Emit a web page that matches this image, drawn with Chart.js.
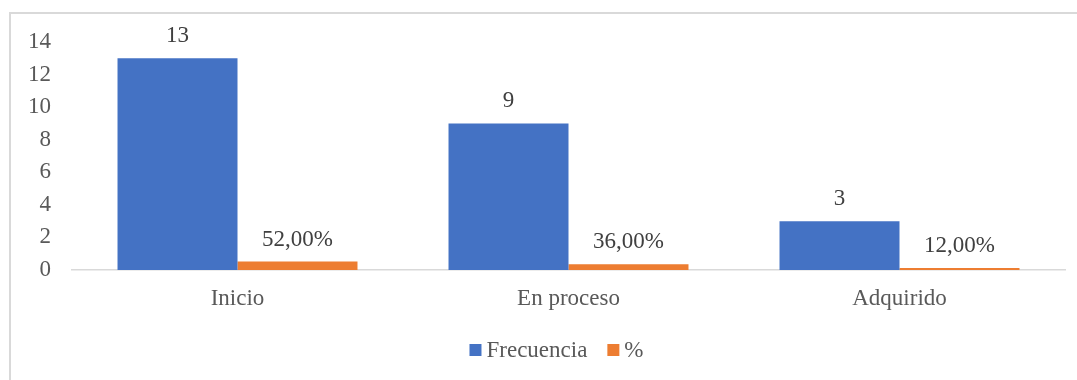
<!DOCTYPE html>
<html>
<head>
<meta charset="utf-8">
<script src="https://cdn.jsdelivr.net/npm/chart.js@4"></script>
<style>
  html, body { margin: 0; padding: 0; background: #ffffff; overflow: hidden; }
  #wrap { position: relative; width: 1077px; height: 380px; }
  #frame { position: absolute; left: 9px; top: 12px; width: 1200px; height: 500px;
           border-left: 2px solid #d9d9d9; border-top: 2px solid #d9d9d9; box-sizing: border-box; }
  canvas { position: absolute; left: 0; top: 0; }
</style>
</head>
<body>
<div id="wrap">
  <div id="frame"></div>
  <canvas id="c" width="1077" height="380"></canvas>
</div>
<script>
const categories = ["Inicio", "En proceso", "Adquirido"];
const seriesNames = ["Frecuencia", "%"];
const frecuencia = [13, 9, 3];
const porcentaje = [0.52, 0.36, 0.12];
const yTicks = [0, 2, 4, 6, 8, 10, 12, 14];

const FONT = "'Liberation Serif', 'Times New Roman', serif";
const TEXT = "#595959";

function fmtPct(v) {
  return (v * 100).toFixed(2).replace(".", ",") + "%";
}

const dataLabels = {
  id: "dataLabels",
  afterDatasetsDraw(chart) {
    const ctx = chart.ctx;
    ctx.save();
    ctx.font = "23px " + FONT;
    ctx.fillStyle = "#404040";
    ctx.textAlign = "center";
    ctx.textBaseline = "alphabetic";
    chart.data.datasets.forEach((ds, di) => {
      const meta = chart.getDatasetMeta(di);
      meta.data.forEach((bar, i) => {
        const v = ds.data[i];
        const txt = di === 1 ? fmtPct(v) : String(v);
        ctx.fillText(txt, bar.x, bar.y - 16);
      });
    });
    ctx.restore();
  }
};

// Office-style legend: small square, short gap, text
const officeLegend = {
  id: "officeLegend",
  afterDraw(chart) {
    const ctx = chart.ctx;
    ctx.save();
    ctx.font = "23px " + FONT;
    ctx.textBaseline = "middle";
    ctx.textAlign = "left";
    const box = 12, gap = 5, spacing = 20;
    const items = chart.data.datasets.map(ds => ({
      text: ds.label, color: ds.backgroundColor, w: ctx.measureText(ds.label).width
    }));
    let total = 0;
    items.forEach((it, i) => { total += box + gap + it.w + (i ? spacing : 0); });
    const cx = (chart.chartArea.left + chart.chartArea.right) / 2 - 12;
    let x = cx - total / 2;
    const cy = 350;
    items.forEach(it => {
      ctx.fillStyle = it.color;
      ctx.fillRect(x, cy - 6, box, box);
      ctx.fillStyle = TEXT;
      ctx.fillText(it.text, x + box + gap, cy + 1);
      x += box + gap + it.w + spacing;
    });
    ctx.restore();
  }
};

new Chart(document.getElementById("c"), {
  type: "bar",
  data: {
    labels: categories,
    datasets: [
      { label: seriesNames[0], data: frecuencia, backgroundColor: "#4472C4" },
      { label: seriesNames[1], data: porcentaje, backgroundColor: "#ED7D31" }
    ]
  },
  options: {
    responsive: false,
    animation: false,
    devicePixelRatio: 1,
    datasets: { bar: { categoryPercentage: 0.725, barPercentage: 1.0 } },
    layout: { padding: { left: 0, right: 12, top: 42, bottom: 52 } },
    plugins: {
      legend: { display: false },
      tooltip: { enabled: false }
    },
    scales: {
      x: {
        grid: { display: false, drawTicks: false },
        border: { display: true, color: "#d9d9d9", width: 1.5 },
        ticks: { color: TEXT, font: { family: FONT, size: 23 }, padding: 15 },
        afterFit(s) { s.height = 58; }
      },
      y: {
        min: 0, max: 14,
        grid: { display: false, drawTicks: false },
        border: { display: false },
        afterBuildTicks(s) { s.ticks = yTicks.map(v => ({ value: v })); },
        ticks: { color: TEXT, font: { family: FONT, size: 23 }, padding: 21 },
        afterFit(s) { s.width = 72; }
      }
    }
  },
  plugins: [dataLabels, officeLegend]
});
</script>
</body>
</html>
